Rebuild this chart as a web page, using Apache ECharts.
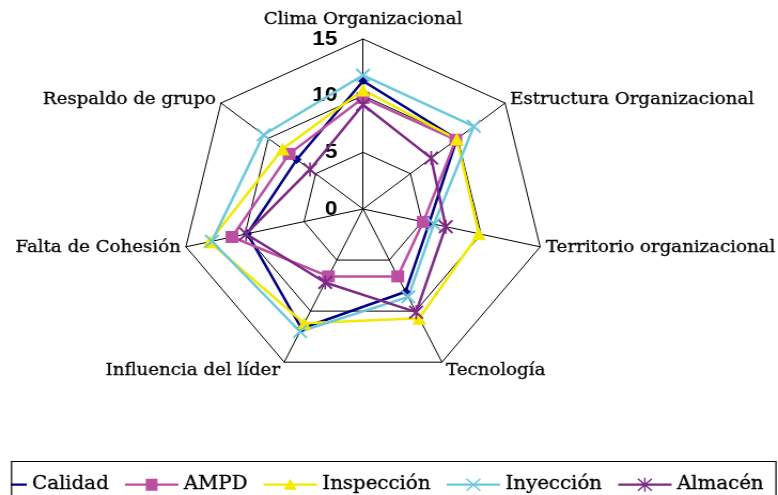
<!DOCTYPE html>
<html>
<head>
<meta charset="utf-8">
<script src="https://cdn.jsdelivr.net/npm/echarts@6/dist/echarts.min.js"></script>
<style>
html,body{margin:0;padding:0;background:#fff;overflow:hidden;}
#chart{width:728px;height:495px;transform:scaleX(1.0687);transform-origin:0 0;}
</style>
</head>
<body>
<div id="chart"></div>
<script>
// Indicators in ECharts drawing order (counter-clockwise from the top)
var categories = ['Clima Organizacional', 'Respaldo de grupo', 'Falta de Cohesión', 'Influencia del líder', 'Tecnología', 'Territorio organizacional', 'Estructura Organizacional'];
var seriesNames = ['Calidad', 'AMPD', 'Inspección', 'Inyección', 'Almacén'];
var calidad    = [11.3, 7.0, 9.8, 11.7, 8.1, 5.6, 9.9];
var ampd       = [9.8, 7.8, 11.1, 6.6, 6.6, 5.1, 9.8];
var inspeccion = [10.5, 8.5, 13.0, 11.2, 10.7, 9.8, 9.9];
var inyeccion  = [11.8, 10.5, 12.8, 12.0, 8.6, 6.0, 11.7];
var almacen    = [9.2, 5.6, 9.9, 7.2, 10.1, 7.0, 7.2];
var axisMax = 15;
var tickLabels = ['0', '5', '10', '15'];

var colors = ['#000080', '#bd4fa3', '#f2ea00', '#6cc8dc', '#7d2a84'];
var values = [calidad, ampd, inspeccion, inyeccion, almacen];

var X_PATH = 'path://M1,0 L5,4 L9,0 L10,1 L6,5 L10,9 L9,10 L5,6 L1,10 L0,9 L4,5 L0,1 Z';
var STAR_PATH = 'path://M1,0 L5,4 L9,0 L10,1 L6,5 L10,9 L9,10 L5,6 L1,10 L0,9 L4,5 L0,1 Z M4.4,0 L5.6,0 L5.6,10 L4.4,10 Z';
var symbols = ['diamond', 'rect', 'triangle', X_PATH, STAR_PATH];
var symbolSizes = [9, 12, 13, 14, 14];

// legend icons (line + marker), bbox 50 x 14
var corners = ' M0,0 L0.01,0 L0,0.01 Z M50,14 L49.99,14 L50,13.99 Z';
var lineBar = 'M0,5.8 L50,5.8 L50,8.2 L0,8.2 Z';
var legendIcons = [
  'path://' + lineBar + ' M25,3 L29,7 L25,11 L21,7 Z' + corners,
  'path://' + lineBar + ' M19.5,1 L30.5,1 L30.5,13 L19.5,13 Z' + corners,
  'path://' + lineBar + ' M25,1 L31,12 L19,12 Z' + corners,
  'path://' + lineBar + ' M19,0.5 L25,6 L31,0.5 L32,1.5 L26,7 L32,12.5 L31,13.5 L25,8 L19,13.5 L18,12.5 L24,7 L18,1.5 Z' + corners,
  'path://' + lineBar + ' M19,0.5 L25,6 L31,0.5 L32,1.5 L26,7 L32,12.5 L31,13.5 L25,8 L19,13.5 L18,12.5 L24,7 L18,1.5 Z M24.3,0 L25.7,0 L25.7,14 L24.3,14 Z' + corners
];

var nameGaps = [9, 6, 5, 9, 9, 5.5, 6];

var indicators = categories.map(function (c, i) {
  var ind = { name: c, max: axisMax, min: 0, nameGap: nameGaps[i] };
  if (i === 0) ind.axisLabel = { show: true };
  return ind;
});

var chart = echarts.init(document.getElementById('chart'), null, { renderer: 'canvas' });
chart.setOption({
  animation: false,
  backgroundColor: '#ffffff',
  radar: {
    center: [339.7, 209],
    radius: 170,
    startAngle: 90,
    shape: 'polygon',
    splitNumber: 3,
    indicator: indicators,
    axisName: { color: '#000', fontFamily: 'DejaVu Serif', fontSize: 17, textBorderColor: '#000', textBorderWidth: 0.3 },
    nameGap: 8,
    axisLine: { lineStyle: { color: '#000', width: 1 } },
    splitLine: { lineStyle: { color: '#000', width: 1 } },
    splitArea: { show: false },
    axisTick: { show: false },
    axisLabel: {
      show: false, color: '#000', fontFamily: 'Liberation Sans', fontWeight: 'bold', fontSize: 21, margin: 24,
      formatter: function (v) { var i = tickLabels.indexOf(String(v)); return i >= 0 ? tickLabels[i] : ''; }
    }
  },
  legend: {
    left: -25,
    top: 475,
    itemWidth: 50,
    itemHeight: 14,
    itemGap: 15,
    padding: 0,
    textStyle: { color: '#000', fontFamily: 'DejaVu Serif', fontSize: 18.5, textBorderColor: '#000', textBorderWidth: 0.3 },
    data: seriesNames.map(function (n, i) { return { name: n, icon: legendIcons[i] }; })
  },
  graphic: [
    { type: 'rect', z: 100, shape: { x: 0, y: 462, width: 10.3, height: 40 }, style: { fill: '#fff' } },
    { type: 'rect', z: 101, shape: { x: 10.8, y: 461.5, width: 715.3, height: 60 }, style: { fill: 'none', stroke: '#000', lineWidth: 1.2 } }
  ],
  series: [{
    type: 'radar',
    data: seriesNames.map(function (n, i) {
      return {
        name: n,
        value: values[i],
        symbol: symbols[i],
        symbolSize: symbolSizes[i],
        itemStyle: { color: colors[i], borderWidth: 0 },
        lineStyle: { color: colors[i], width: 2.5 }
      };
    })
  }]
});
</script>
</body>
</html>
